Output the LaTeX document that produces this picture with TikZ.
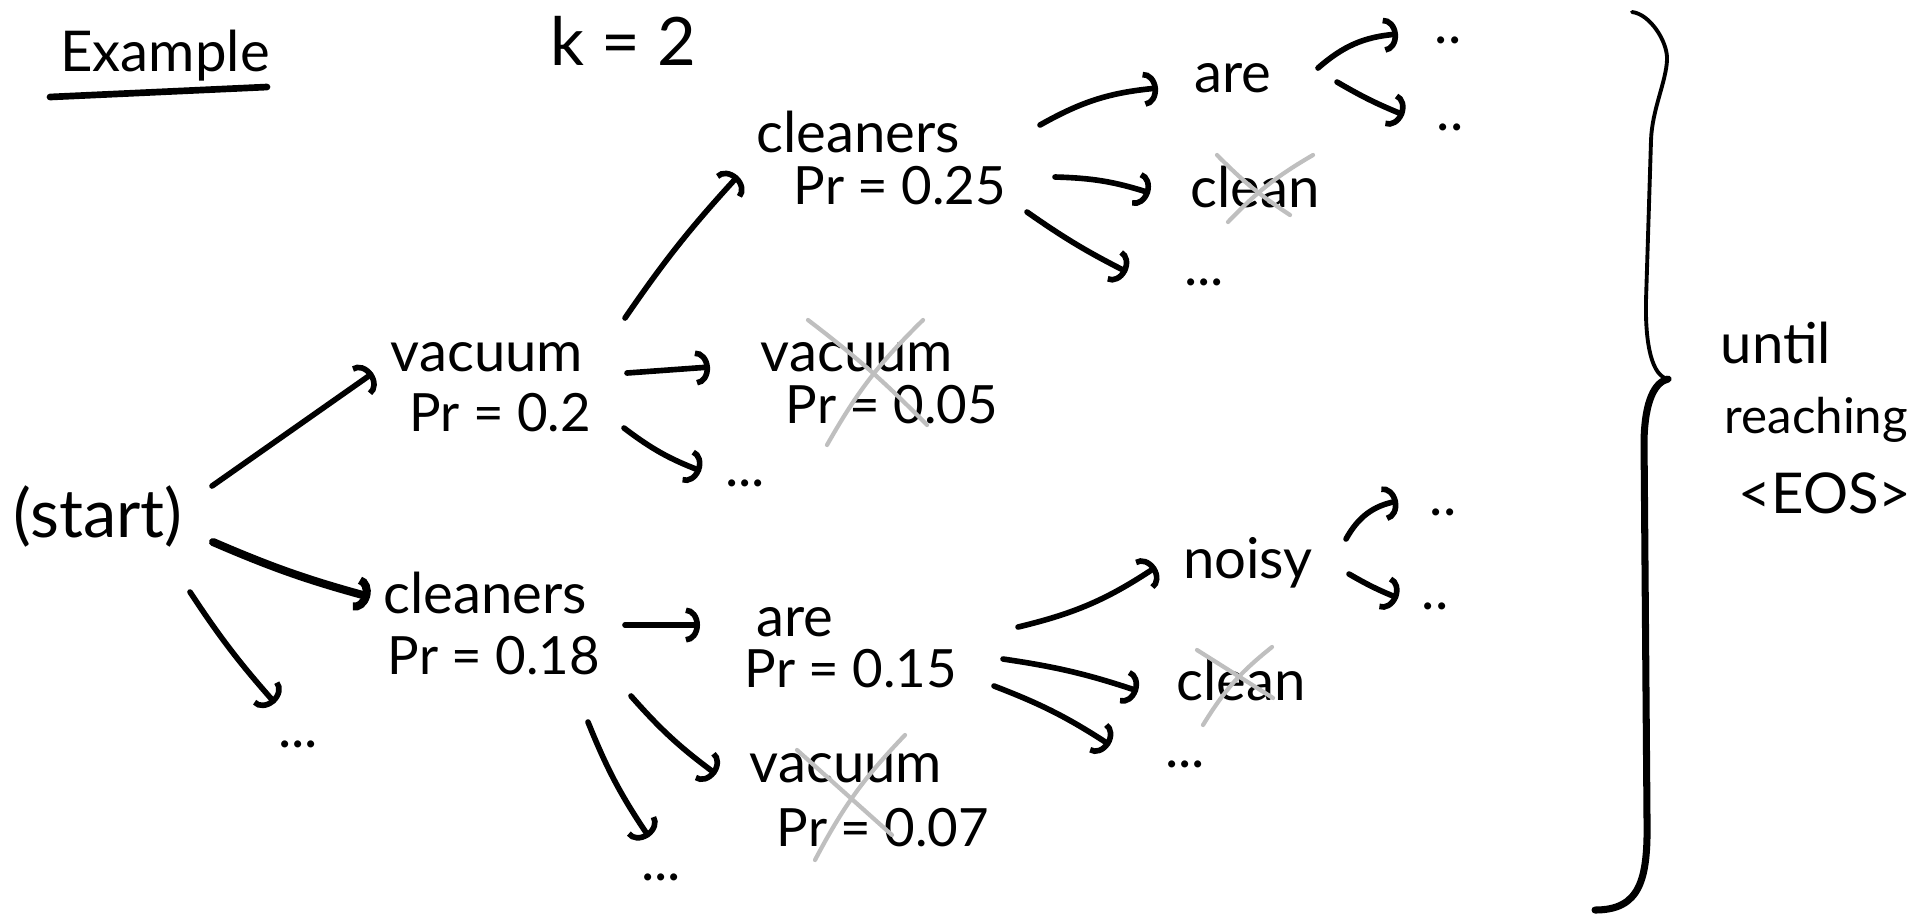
\documentclass[tikz,border=0pt]{standalone}
\usepackage{fontspec}
\setmainfont{Lato}
\usetikzlibrary{arrows.meta,calc}
\begin{document}
\begin{tikzpicture}[x=0.01cm,y=-0.01cm,
  txt/.style={inner sep=0pt, font=\fontsize{16}{19}\selectfont},
  prob/.style={inner sep=0pt, font=\fontsize{15}{18}\selectfont},
  big/.style={inner sep=0pt, font=\fontsize{19}{22}\selectfont},
  arr/.style={line width=1.6pt, line cap=round, -{Arc Barb[length=4pt,width=10pt]}},
  heavy/.style={arr, line width=2.3pt},
  strike/.style={draw=black!25, line width=1.2pt, line cap=round},
  pen/.style={line width=1.6pt, line cap=round, line join=round}]
\useasboundingbox (0,0) rectangle (1919,914);

% title and beam width
\node[txt] (ex) at (165,56) {Example};
\draw[pen, line width=1.9pt] ($(ex)+(-115,41)$) -- ($(ex)+(102,31)$);
\node[big] (k) at (623,41) {k = 2};

% root
\node[big] (start) at (98,516) {(start)};

% step 1
\node[txt]  (v1)  at (487,357) {vacuum};
\node[prob] (v1p) at (500,413) {Pr = 0.2};
\node[txt]  (c1)  at (485,593) {cleaners};
\node[prob] (c1p) at (494,656) {Pr = 0.18};
\node[txt]  (d0)  at (298,744) {...};

% step 2, beam of "vacuum"
\node[txt]  (c2)  at (858,132) {cleaners};
\node[prob] (c2p) at (900,186) {Pr = 0.25};
\node[txt]  (v2)  at (857,357) {vacuum};
\node[prob] (v2p) at (892,405) {Pr = 0.05};
\node[txt]  (d1)  at (745,483) {...};

% step 2, beam of "cleaners"
\node[txt]  (a1)  at (795,622) {are};
\node[prob] (a1p) at (851,669) {Pr = 0.15};
\node[txt]  (v3)  at (846,768) {vacuum};
\node[prob] (v3p) at (883,828) {Pr = 0.07};
\node[txt]  (d2)  at (661,877) {...};

% step 3
\node[txt] (a2)  at (1233,78)  {are};
\node[txt] (cl1) at (1255,187) {clean};
\node[txt] (d3)  at (1204,282) {...};
\node[txt] (n1)  at (1248,563) {noisy};
\node[txt] (cl2) at (1241,680) {clean};
\node[txt] (d4)  at (1185,764) {...};

% step 4
\node[txt] (e1) at (1448,40)  {..};
\node[txt] (e2) at (1450,127) {..};
\node[txt] (e3) at (1443,512) {..};
\node[txt] (e4) at (1435,606) {..};

% stopping condition
\node[txt, anchor=west] (until) at (1720,343) {until};
\node[prob, font=\fontsize{14}{17}\selectfont, anchor=west] (reach) at (1724,420) {reaching};
\node[txt, anchor=west] (eos) at (1738,493) {<EOS>};

% expansions
\draw[arr]   ($(start)+(114,-30)$) -- ($(v1)+(-114,16)$);
\draw[heavy] ($(start)+(115,26)$) to[bend right=4] ($(c1)+(-115,4)$);
\draw[arr]   ($(start)+(92,76)$) to[bend right=4] ($(d0)+(-23,-41)$);

\draw[arr] ($(v1)+(138,-39)$) to[bend left=4] ($(c2)+(-120,44)$);
\draw[arr] ($(v1)+(140,16)$) -- ($(v2)+(-147,10)$);
\draw[arr] ($(v1)+(137,71)$) to[bend right=8] ($(d1)+(-44,-12)$);

\draw[arr] ($(c1)+(140,32)$) -- ($(a1)+(-95,3)$);
\draw[arr] ($(c1)+(146,103)$) to[bend right=6] ($(v3)+(-130,6)$);
\draw[arr] ($(c1)+(103,129)$) to[bend right=6] ($(d2)+(-12,-40)$);

\draw[arr] ($(c2)+(182,-7)$) to[bend left=12] ($(a2)+(-75,10)$);
\draw[arr] ($(c2)+(197,45)$) to[bend left=8] ($(cl1)+(-105,6)$);
\draw[arr] ($(c2)+(169,80)$) to[bend right=4] ($(d3)+(-77,-10)$);

\draw[arr] ($(a1)+(223,5)$) to[bend right=10] ($(n1)+(-92,4)$);
\draw[arr] ($(a1)+(208,37)$) to[bend left=5] ($(cl2)+(-103,11)$);
\draw[arr] ($(a1)+(199,64)$) to[bend left=6] ($(d4)+(-75,-19)$);

\draw[arr] ($(a2)+(85,-10)$) to[bend left=18] ($(e1)+(-50,-6)$);
\draw[arr] ($(a2)+(104,4)$) to[bend right=4] ($(e2)+(-46,-12)$);
\draw[arr] ($(n1)+(98,-24)$) to[bend left=25] ($(e3)+(-45,-11)$);
\draw[arr] ($(n1)+(101,11)$) to[bend right=4] ($(e4)+(-37,-8)$);

% pruned candidates
\draw[strike] ($(v2)+(-49,-37)$) to[bend left=4] ($(v2)+(70,68)$);
\draw[strike] ($(v2)+(66,-37)$) to[bend right=8] ($(v2)+(-30,88)$);
\draw[strike] ($(cl1)+(-38,-32)$) to[bend right=6] ($(cl1)+(35,28)$);
\draw[strike] ($(cl1)+(58,-32)$) to[bend right=8] ($(cl1)+(-27,35)$);
\draw[strike] ($(v3)+(-49,-18)$) -- ($(v3)+(46,67)$);
\draw[strike] ($(v3)+(59,-33)$) to[bend right=8] ($(v3)+(-31,92)$);
\draw[strike] ($(cl2)+(-44,-30)$) -- ($(cl2)+(32,18)$);
\draw[strike] ($(cl2)+(31,-33)$) to[bend right=10] ($(cl2)+(-38,45)$);

% brace over the whole search
\draw[pen, line width=1.1pt] (1632,12) .. controls (1650,14) and (1668,42) .. (1667,60)
  .. controls (1666,82) and (1652,110) .. (1651,140) -- (1646,300)
  .. controls (1645,345) and (1652,376) .. (1668,379);
\draw[pen, line width=2pt] (1668,379) .. controls (1655,382) and (1645,400) .. (1644,440)
  -- (1647,820) .. controls (1648,880) and (1640,910) .. (1595,910);
\end{tikzpicture}
\end{document}
